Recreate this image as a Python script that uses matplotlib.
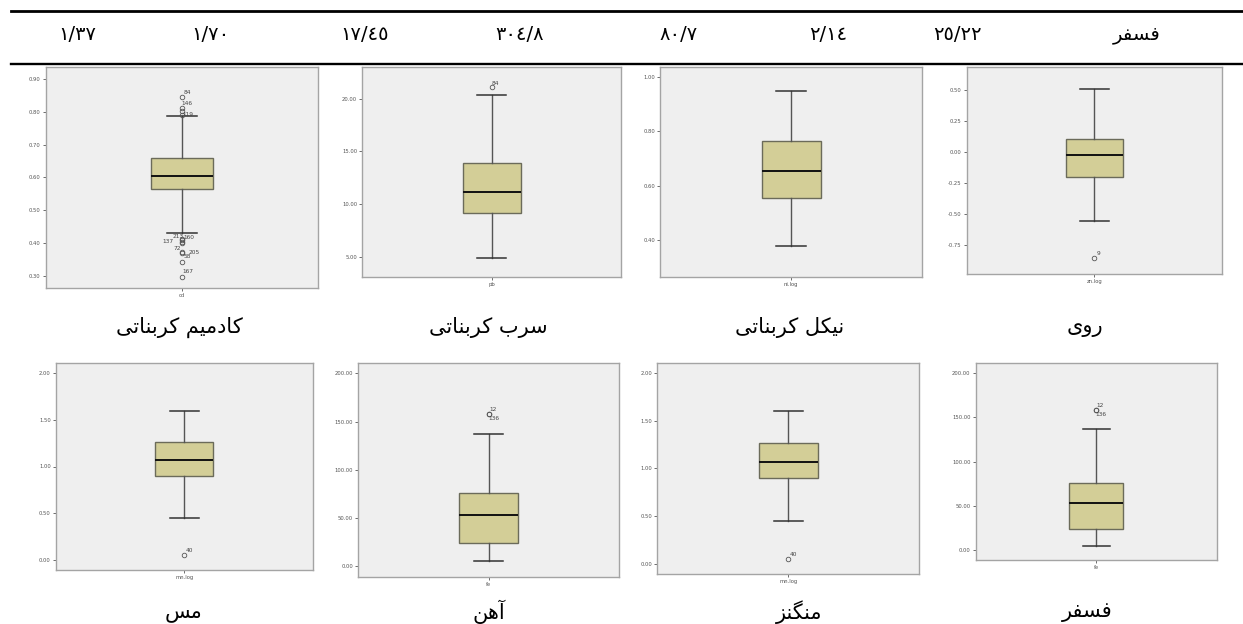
import numpy as np
import matplotlib
matplotlib.use("Agg")
import matplotlib.pyplot as plt
from matplotlib.lines import Line2D
from matplotlib.ticker import FormatStrFormatter
from matplotlib import font_manager
from matplotlib.ft2font import FT2Font

W, H, DPI = 1243, 624, 100

# ---- table header row ----
header_values = ["١/٣٧", "١/٧٠", "١٧/٤٥", "٣٠٤/٨", "٨٠/٧", "٢/١٤", "٢٥/٢٢"]
header_name = "فسفر"

# ---- boxplot panels (row-major, left to right) ----
variables = ["cd", "pb", "ni.log", "zn.log", "mn.log", "fe", "mn.log", "fe"]
captions = ["کادمیم کربناتی", "سرب کربناتی", "نیکل کربناتی", "روی",
            "مس", "آهن", "منگنز", "فسفر"]
q1 = [0.565, 9.18, 0.553, -0.205, 0.897, 24.5, 0.897, 24.5]
medians = [0.606, 11.14, 0.653, -0.024, 1.065, 53.2, 1.065, 53.2]
q3 = [0.660, 13.86, 0.764, 0.105, 1.263, 76.0, 1.263, 76.0]
whisker_low = [0.4315, 4.85, 0.3755, -0.552, 0.446, 5.0, 0.446, 5.0]
whisker_high = [0.787, 20.38, 0.950, 0.505, 1.600, 137.3, 1.600, 137.3]
outliers = [
    [0.845, 0.811, 0.804, 0.790, 0.414, 0.409, 0.404, 0.400, 0.373, 0.371, 0.344, 0.298],
    [21.1],
    [],
    [-0.85],
    [0.045],
    [157.8, 157.8],
    [0.045],
    [157.8, 157.8],
]
outlier_ids = [
    ["84", "146", "", "119", "213", "160", "137", "", "72", "205", "58", "167"],
    ["84"],
    [],
    ["9"],
    ["40"],
    ["12", "136"],
    ["40"],
    ["12", "136"],
]

# ---- layout (pixels) ----
frames = [
    (45.7, 66.7, 318.3, 287.7),
    (362.3, 66.7, 621.0, 277.3),
    (660.3, 66.7, 922.0, 277.3),
    (966.7, 66.7, 1222.0, 274.0),
    (56.0, 362.7, 312.7, 570.3),
    (358.3, 362.7, 619.3, 576.7),
    (657.3, 362.7, 919.3, 574.0),
    (975.7, 362.7, 1216.7, 560.3),
]
ylims = [(0.2643, 0.9375), (3.04, 23.04), (0.261, 1.039), (-0.981, 0.685),
         (-0.114, 2.114), (-10.8, 211.0), (-0.108, 2.111), (-11.3, 211.6)]
yticks = [np.arange(0.30, 0.91, 0.10), [5, 10, 15, 20], [0.4, 0.6, 0.8, 1.0],
          [-0.75, -0.5, -0.25, 0.0, 0.25, 0.5], [0, 0.5, 1, 1.5, 2],
          [0, 50, 100, 150, 200], [0, 0.5, 1, 1.5, 2], [0, 50, 100, 150, 200]]
label_offsets = [
    [(5, 5), (5, 5), (0, 0), (6, 1), (-4, 2), (7, 3), (-14, 0), (0, 0),
     (-5, 4), (12, 0), (5, 5), (6, 5)],
    [(4, 4)], [], [(4, 4)], [(5, 5)], [(4, 5), (5, -4)], [(5, 5)], [(4, 5), (5, -4)],
]
caption_pos = [(179, 327), (488, 327), (790, 327), (1085, 327),
               (183, 612), (489, 612), (799, 612), (1087, 612)]
header_x = [77.5, 210, 365, 520, 679, 828, 957]
header_name_x = 1137
header_y = 34


def shaper():
    """Contextual Persian letter forms for fonts without a shaping engine."""
    forms = {
        "\u0627": ("\uFE8D", "\uFE8E", None, None),
        "\u0622": ("\uFE81", "\uFE82", None, None),
        "\u0628": ("\uFE8F", "\uFE90", "\uFE91", "\uFE92"),
        "\u062A": ("\uFE95", "\uFE96", "\uFE97", "\uFE98"),
        "\u062F": ("\uFEA9", "\uFEAA", None, None),
        "\u0631": ("\uFEAD", "\uFEAE", None, None),
        "\u0632": ("\uFEAF", "\uFEB0", None, None),
        "\u0633": ("\uFEB1", "\uFEB2", "\uFEB3", "\uFEB4"),
        "\u0641": ("\uFED1", "\uFED2", "\uFED3", "\uFED4"),
        "\u0644": ("\uFEDD", "\uFEDE", "\uFEDF", "\uFEE0"),
        "\u0645": ("\uFEE1", "\uFEE2", "\uFEE3", "\uFEE4"),
        "\u0646": ("\uFEE5", "\uFEE6", "\uFEE7", "\uFEE8"),
        "\u0647": ("\uFEE9", "\uFEEA", "\uFEEB", "\uFEEC"),
        "\u0648": ("\uFEED", "\uFEEE", None, None),
        "\u06A9": ("\uFB8E", "\uFB8F", "\uFB90", "\uFB91"),
        "\u06AF": ("\uFB92", "\uFB93", "\uFB94", "\uFB95"),
        "\u06CC": ("\uFBFC", "\uFBFD", "\uFBFE", "\uFBFF"),
    }
    fallback = {
        "\u06A9": ("\uFED9", "\uFEDA", "\uFEDB", "\uFEDC"),
        "\u06AF": ("\uFED9", "\uFEDA", "\uFEDB", "\uFEDC"),
        "\u06CC": ("\uFEEF", "\uFEF0", "\uFEF3", "\uFEF4"),
    }
    ft = FT2Font(font_manager.findfont("DejaVu Sans"))
    for k, v in fallback.items():
        if any(ft.get_char_index(ord(c)) == 0 for c in forms[k]):
            forms[k] = v

    def shape(text):
        out = []
        for i, ch in enumerate(text):
            if ch not in forms:
                out.append(ch)
                continue
            prev = text[i - 1] if i > 0 else ""
            nxt = text[i + 1] if i + 1 < len(text) else ""
            join_prev = prev in forms and forms[prev][2] is not None
            join_next = nxt in forms and forms[ch][2] is not None
            iso, fin, ini, med = forms[ch]
            if join_prev and join_next:
                out.append(med)
            elif join_prev:
                out.append(fin)
            elif join_next:
                out.append(ini)
            else:
                out.append(iso)
        return "".join(out)[::-1]

    return shape


shape = shaper()

fig = plt.figure(figsize=(W / DPI, H / DPI), dpi=DPI)
fig.patch.set_facecolor("white")


def fx(x):
    return x / W


def fy(y):
    return 1 - y / H


# table rules
fig.add_artist(Line2D([fx(11), fx(1243)], [fy(11.3), fy(11.3)], color="black", lw=2.0))
fig.add_artist(Line2D([fx(11), fx(1243)], [fy(63.6), fy(63.6)], color="black", lw=1.7))

for x, v in zip(header_x, header_values):
    fig.text(fx(x), fy(header_y), v, ha="center", va="center", fontsize=14,
             family="DejaVu Sans", color="black")
fig.text(fx(header_name_x), fy(header_y), shape(header_name), ha="center",
         va="center", fontsize=14, family="DejaVu Sans", color="black")

box_face = "#d3ce97"
for i, var in enumerate(variables):
    x0, y0, x1, y1 = frames[i]
    ax = fig.add_axes([fx(x0), fy(y1), fx(x1 - x0), (y1 - y0) / H])
    ax.set_facecolor("#efefef")
    stats = [dict(med=medians[i], q1=q1[i], q3=q3[i], whislo=whisker_low[i],
                  whishi=whisker_high[i], fliers=np.array(outliers[i]), label=var)]
    ax.bxp(stats, positions=[0.5], widths=0.225, capwidths=0.112,
           patch_artist=True, showfliers=True,
           boxprops=dict(facecolor=box_face, edgecolor="#6b6b5a", linewidth=1.0),
           medianprops=dict(color="#111111", linewidth=1.4),
           whiskerprops=dict(color="#555555", linewidth=1.0),
           capprops=dict(color="#333333", linewidth=1.1),
           flierprops=dict(marker="o", markerfacecolor="none",
                           markeredgecolor="#555555", markersize=3.3,
                           markeredgewidth=0.6))
    for val, lab, (dx, dy) in zip(outliers[i], outlier_ids[i], label_offsets[i]):
        if lab:
            ax.annotate(lab, (0.5, val), xytext=(dx, dy), textcoords="offset pixels",
                        ha="center", va="center", fontsize=4.2, color="#444444")
    ax.set_xlim(0, 1)
    ax.set_ylim(*ylims[i])
    ax.set_yticks(yticks[i])
    ax.yaxis.set_major_formatter(FormatStrFormatter("%.2f"))
    ax.set_xticks([0.5])
    ax.set_xticklabels([var])
    ax.tick_params(axis="both", labelsize=3.8, length=2.5, width=0.6,
                   color="#555555", labelcolor="#555555", pad=1.2)
    for sp in ax.spines.values():
        sp.set_color("#a4a4a4")
        sp.set_linewidth(1.0)
    cx, cy = caption_pos[i]
    fig.text(fx(cx), fy(cy), shape(captions[i]), ha="center", va="center",
             fontsize=15, family="DejaVu Sans", color="black")

fig.savefig("out.png", dpi=DPI)
